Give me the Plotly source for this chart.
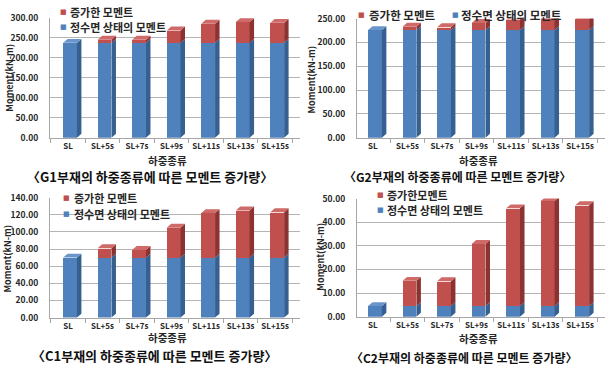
import plotly.graph_objects as go

categories = ["SL", "SL+5s", "SL+7s", "SL+9s", "SL+11s", "SL+13s", "SL+15s"]

g1_base = [237, 237, 237, 237, 237, 237, 237]
g1_total = [237, 245, 245, 268, 285, 289, 287]
g2_base = [226, 226, 226, 226, 226, 226, 226]
g2_total = [226, 233, 232, 241, 248, 252, 249]
c1_base = [70, 70, 70, 70, 70, 70, 70]
c1_total = [70, 81, 79, 105, 122, 125, 123]
c2_base = [4.5, 4.5, 4.5, 4.5, 4.5, 4.5, 4.5]
c2_total = [4.5, 15.2, 15.0, 30.8, 45.9, 49.0, 47.2]

y_max = [300, 250, 140, 50]
y_dtick = [50, 50, 20, 10]

captions = [
    "〈G1부재의 하중종류에 따른 모멘트 증가량〉",
    "〈G2부재의 하중종류에 따른 모멘트 증가량〉",
    "〈C1부재의 하중종류에 따른 모멘트 증가량〉",
    "〈C2부재의 하중종류에 따른 모멘트 증가량〉",
]
inc_names = ["증가한 모멘트", "증가한 모멘트", "증가한 모멘트", "증가한모멘트"]
base_name = "정수면 상태의 모멘트"
x_title = "하중종류"
y_title = "Moment(kN-m)"

W, H = 610, 371
FONT = "Noto Sans CJK KR"
BLUE, BLUE_SIDE, BLUE_TOP = "#4F81BD", "#35608F", "#6A95CC"
RED, RED_SIDE, RED_TOP = "#C0504D", "#8C3331", "#CE6A67"
GRID = "#B4B4B4"
TXT = "#262626"


def fx(px):
    return px / W


def fy(py):
    return 1 - py / H


# panel plot-area boxes in pixels: (x0, x1, ytop, ybottom)
boxes = [(50, 300, 11, 135), (357, 605, 12, 135), (50, 300, 197, 321), (357, 605, 198, 320)]
xranges = [[-0.52, 6.72], [-0.46, 6.72], [-0.52, 6.72], [-0.46, 6.72]]

datasets = [(g1_base, g1_total), (g2_base, g2_total), (c1_base, c1_total), (c2_base, c2_total)]

BAR_OFF = -0.14
BAR_W = 0.40
DEPTH_X = 0.13
DEPTH_PX = 4

fig = go.Figure()
annotations = []

for p, (base, total) in enumerate(datasets):
    k = "" if p == 0 else str(p + 1)
    xa, ya = "x" + k, "y" + k
    x0, x1, yt, yb = boxes[p]
    inc = [t - b for t, b in zip(total, base)]
    idx = list(range(len(categories)))
    dy = DEPTH_PX * y_max[p] / (yb - yt)

    fig.add_trace(go.Bar(x=idx, y=base, marker=dict(color=BLUE, line=dict(width=0)),
                         width=BAR_W, offset=BAR_OFF, name=base_name, showlegend=False,
                         xaxis=xa, yaxis=ya))
    fig.add_trace(go.Bar(x=idx, y=inc, base=base, marker=dict(color=RED, line=dict(width=0)),
                         width=BAR_W, offset=BAR_OFF, name=inc_names[p], showlegend=False,
                         xaxis=xa, yaxis=ya))

    # pseudo-3D faces computed from the data
    def poly_trace(xs, ys, color):
        return go.Scatter(x=xs, y=ys, mode="lines", fill="toself", fillcolor=color,
                          line=dict(width=0, color=color), hoverinfo="skip",
                          showlegend=False, xaxis=xa, yaxis=ya)

    bsx, bsy, rsx, rsy, btx, bty, rtx, rty = [], [], [], [], [], [], [], []
    for i in idx:
        l = i + BAR_OFF
        r = l + BAR_W
        bsx += [r, r + DEPTH_X, r + DEPTH_X, r, None]
        bsy += [0, dy, base[i] + dy, base[i], None]
        if inc[i] > 0:
            rsx += [r, r + DEPTH_X, r + DEPTH_X, r, None]
            rsy += [base[i], base[i] + dy, total[i] + dy, total[i], None]
            rtx += [l, r, r + DEPTH_X, l + DEPTH_X, None]
            rty += [total[i], total[i], total[i] + dy, total[i] + dy, None]
        else:
            btx += [l, r, r + DEPTH_X, l + DEPTH_X, None]
            bty += [total[i], total[i], total[i] + dy, total[i] + dy, None]
    fig.add_trace(poly_trace(bsx, bsy, BLUE_SIDE))
    if rsx:
        fig.add_trace(poly_trace(rsx, rsy, RED_SIDE))
        fig.add_trace(poly_trace(rtx, rty, RED_TOP))
    if btx:
        fig.add_trace(poly_trace(btx, bty, BLUE_TOP))

    minor_vals = [i + 0.5 for i in range(-1, len(categories))]
    fig.layout["xaxis" + k] = dict(
        domain=[fx(x0), fx(x1)], anchor=ya, range=xranges[p],
        tickmode="array", tickvals=idx, ticktext=categories,
        tickfont=dict(family=FONT, size=8, color=TXT, weight="bold"),
        ticks="", ticklabelstandoff=1,
        showline=True, linecolor="#A6A6A6", linewidth=1,
        showgrid=False, zeroline=False, fixedrange=True,
        minor=dict(tickmode="array", tickvals=minor_vals, ticks="outside",
                   ticklen=4, tickcolor="#A6A6A6"),
    )
    fig.layout["yaxis" + k] = dict(
        domain=[fy(yb), fy(yt)], anchor=xa, range=[0, y_max[p]], dtick=y_dtick[p],
        tickformat=".2f",
        tickfont=dict(family=FONT, size=8.5, color=TXT, weight="bold"),
        ticklabelstandoff=9, ticks="",
        showline=True, linecolor="#A6A6A6", linewidth=1,
        showgrid=True, gridcolor=GRID, gridwidth=1, zeroline=False, fixedrange=True,
    )

# axis titles, captions, legends (pixel positions)
ytitle_pos = [(10, 73), (312, 75), (8, 260), (321, 258)]
xtitle_pos = [(167, 158.5), (478, 158.5), (167, 341.5), (478, 343)]
caption_pos = [(150, 175.5, 13), (457, 175.5, 12), (154, 360, 13), (464, 362, 12)]

for p in range(4):
    annotations.append(dict(text=y_title, x=fx(ytitle_pos[p][0]), y=fy(ytitle_pos[p][1]),
                            xref="paper", yref="paper", showarrow=False, textangle=-90,
                            xanchor="center", yanchor="middle",
                            font=dict(family=FONT, size=9, color=TXT, weight="bold")))
    annotations.append(dict(text=x_title, x=fx(xtitle_pos[p][0]), y=fy(xtitle_pos[p][1]),
                            xref="paper", yref="paper", showarrow=False,
                            xanchor="center", yanchor="middle",
                            font=dict(family=FONT, size=10.5, color=TXT, weight="bold")))
    cx, cy, cs = caption_pos[p]
    annotations.append(dict(text=captions[p], x=fx(cx), y=fy(cy),
                            xref="paper", yref="paper", showarrow=False,
                            xanchor="center", yanchor="middle",
                            font=dict(family=FONT, size=cs, color="#111111", weight="bold")))

# legend entries: (marker x, y, text x, label, color, font size)
legend_items = [
    (63, 5, 68, inc_names[0], RED, 11), (63, 21, 68, base_name, BLUE, 11),
    (362, 8, 367, inc_names[1], RED, 11.5), (455, 8, 459, base_name, BLUE, 11.5),
    (66, 197.5, 72, inc_names[2], RED, 11), (66, 213.5, 72, base_name, BLUE, 11),
    (380, 194, 385, inc_names[3], RED, 11), (380, 210, 385, base_name, BLUE, 11),
]
for mx, my, tx, label, col, fs in legend_items:
    annotations.append(dict(text="■", x=fx(mx), y=fy(my), xref="paper", yref="paper",
                            showarrow=False, xanchor="center", yanchor="middle",
                            font=dict(family="DejaVu Sans", size=7, color=col)))
    annotations.append(dict(text=label, x=fx(tx), y=fy(my), xref="paper", yref="paper",
                            showarrow=False, xanchor="left", yanchor="middle",
                            font=dict(family=FONT, size=fs, color=TXT, weight="bold")))

fig.update_layout(
    width=W, height=H, margin=dict(l=0, r=0, t=0, b=0),
    paper_bgcolor="white", plot_bgcolor="white",
    barmode="stack", bargap=0, showlegend=False,
    annotations=annotations,
    font=dict(family=FONT),
)

fig.write_html("out.html")
